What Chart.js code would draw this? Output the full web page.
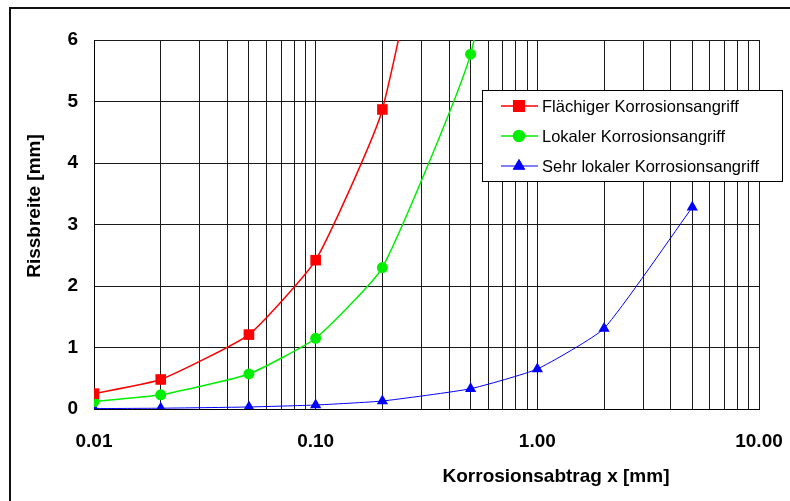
<!DOCTYPE html>
<html>
<head>
<meta charset="utf-8">
<script src="https://cdn.jsdelivr.net/npm/chart.js@4.4.1/dist/chart.umd.min.js"></script>
<style>
  html, body { margin: 0; padding: 0; background: #fff; overflow: hidden; }
  #wrap { position: relative; width: 790px; height: 501px; }
  #frame { position: absolute; left: 9px; top: 7px; width: 900px; height: 600px; border: 2px solid #111; box-sizing: border-box; pointer-events: none; }
  canvas { position: absolute; left: 0; top: 0; }
</style>
</head>
<body>
<div id="wrap">
  <canvas id="chart" width="790" height="501"></canvas>
  <div id="frame"></div>
</div>
<script>
// Korrosionsabtrag x [mm]
const xValues = [0.01, 0.02, 0.05, 0.1, 0.2, 0.5, 1, 2, 5];

// Rissbreite [mm]
const flaechig = [0.25, 0.48, 1.21, 2.42, 4.87, 12.1, 24.3];
const lokal = [0.12, 0.23, 0.57, 1.15, 2.30, 5.77, 11.5];
const sehrLokal = [0.0065, 0.013, 0.033, 0.065, 0.13, 0.33, 0.65, 1.31, 3.28];

const xTickLabels = [0.01, 0.1, 1, 10];
const yTicks = [0, 1, 2, 3, 4, 5, 6];

const toPoints = (vals) => vals.map((v, i) => ({ x: xValues[i], y: v }));

// legende im Diagramm
const boxLegend = {
    id: 'boxLegend',
    afterDraw(chart) {
        const ctx = chart.ctx;
        const x0 = 482, y0 = 90, w = 300, h = 91;
        ctx.save();
        ctx.fillStyle = '#fff';
        ctx.fillRect(x0, y0, w, h);
        ctx.strokeStyle = '#000';
        ctx.lineWidth = 1;
        ctx.strokeRect(x0 + 0.5, y0 + 0.5, w, h);
        ctx.font = '16.5px "Liberation Sans", Arial, sans-serif';
        ctx.textBaseline = 'middle';
        chart.data.datasets.forEach((ds, i) => {
            const cy = y0 + 16 + i * 30;
            ctx.strokeStyle = ds.borderColor;
            ctx.lineWidth = ds.borderWidth;
            ctx.beginPath();
            ctx.moveTo(x0 + 19, cy);
            ctx.lineTo(x0 + 56, cy);
            ctx.stroke();
            Chart.helpers.drawPoint(ctx, {
                pointStyle: ds.pointStyle,
                radius: ds.pointRadius,
                rotation: 0,
                borderWidth: 1
            }, x0 + 37, cy);
            ctx.fillStyle = ds.backgroundColor;
            ctx.fill();
            ctx.fillStyle = '#000';
            ctx.fillText(ds.label, x0 + 60, cy + 1);
        });
        ctx.restore();
    }
};

// Achsentitel
const axisTitles = {
    id: 'axisTitles',
    afterDraw(chart) {
        const ctx = chart.ctx;
        ctx.save();
        ctx.fillStyle = '#000';
        ctx.font = 'bold 19px "Liberation Sans", Arial, sans-serif';
        ctx.textAlign = 'center';
        ctx.textBaseline = 'middle';
        ctx.fillText('Korrosionsabtrag x [mm]', 556, 477);
        ctx.translate(35, 206);
        ctx.rotate(-Math.PI / 2);
        ctx.fillText('Rissbreite [mm]', 0, 0);
        ctx.restore();
    }
};

new Chart(document.getElementById('chart'), {
    type: 'line',
    data: {
        datasets: [
            {
                label: 'Flächiger Korrosionsangriff',
                data: toPoints(flaechig),
                borderColor: '#ff0000',
                backgroundColor: '#ff0000',
                borderWidth: 1.5,
                pointStyle: 'rect',
                pointRadius: 7.5,
                pointBorderWidth: 0,
                tension: 0.15
            },
            {
                label: 'Lokaler Korrosionsangriff',
                data: toPoints(lokal),
                borderColor: '#00ee00',
                backgroundColor: '#00ee00',
                borderWidth: 1.5,
                pointStyle: 'circle',
                pointRadius: 5.5,
                pointBorderWidth: 0,
                tension: 0.15
            },
            {
                label: 'Sehr lokaler Korrosionsangriff',
                data: toPoints(sehrLokal),
                borderColor: '#0000ff',
                backgroundColor: '#0000ff',
                borderWidth: 1,
                pointStyle: 'triangle',
                pointRadius: 6.5,
                pointBorderWidth: 0,
                tension: 0.15
            }
        ]
    },
    options: {
        responsive: false,
        animation: false,
        capBezierPoints: false,
        layout: { padding: { top: 40, right: 31, left: 0, bottom: 0 } },
        plugins: {
            legend: { display: false },
            tooltip: { enabled: false }
        },
        scales: {
            x: {
                type: 'logarithmic',
                min: 0.01,
                max: 10,
                afterFit(scale) {
                    scale.height = 92;
                    scale.paddingLeft = 0;
                    scale.paddingRight = 0;
                },
                afterBuildTicks(scale) {
                    const ticks = [];
                    for (let e = -2; e < 1; e++) {
                        for (let m = 1; m < 10; m++) {
                            ticks.push({ value: parseFloat((m * Math.pow(10, e)).toPrecision(3)) });
                        }
                    }
                    ticks.push({ value: 10 });
                    scale.ticks = ticks;
                },
                grid: { color: '#1a1a1a', lineWidth: 1, drawTicks: false },
                border: { color: '#000', width: 1 },
                ticks: {
                    autoSkip: false,
                    maxRotation: 0,
                    padding: 21,
                    color: '#000',
                    font: { family: '"Liberation Sans", Arial, sans-serif', size: 19, weight: 'bold' },
                    callback(value) {
                        return xTickLabels.some(t => Math.abs(t - value) < 1e-9) ? value.toFixed(2) : '';
                    }
                }
            },
            y: {
                min: 0,
                max: 6,
                afterFit(scale) { scale.width = 94; },
                afterBuildTicks(scale) { scale.ticks = yTicks.map(v => ({ value: v })); },
                grid: { color: '#1a1a1a', lineWidth: 1, drawTicks: false },
                border: { color: '#000', width: 1 },
                ticks: {
                    padding: 16,
                    color: '#000',
                    font: { family: '"Liberation Sans", Arial, sans-serif', size: 19, weight: 'bold' }
                }
            }
        }
    },
    plugins: [boxLegend, axisTitles]
});
</script>
</body>
</html>
